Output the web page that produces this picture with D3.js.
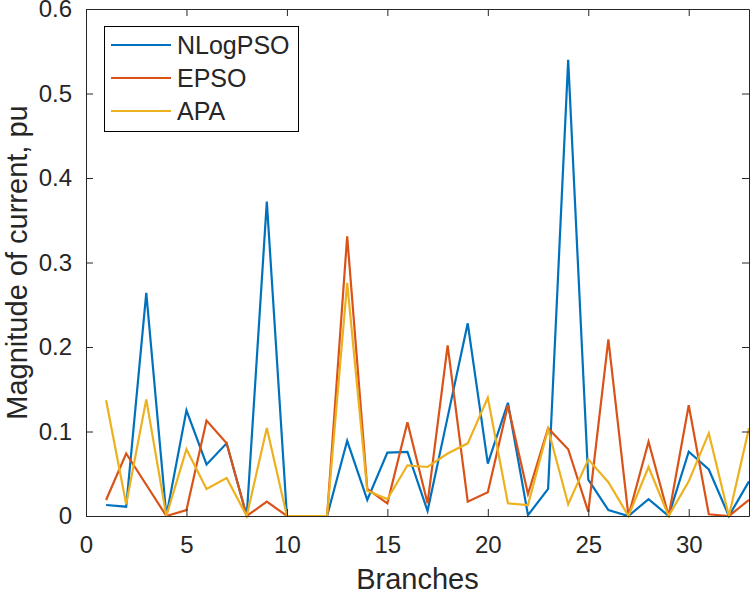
<!DOCTYPE html>
<html>
<head>
<meta charset="utf-8">
<script src="https://cdn.jsdelivr.net/npm/d3@7"></script>
<style>
  body { margin: 0; background: #fff; }
  text { font-family: "Liberation Sans", Arial, sans-serif; fill: #262626; }
</style>
</head>
<body>
<script>
// branches 1..33
var branches = d3.range(1, 34);

var nlogpso = [0.013, 0.011, 0.264, 0.000, 0.125, 0.061, 0.086, 0.000, 0.372, 0.000,
               0.000, 0.000, 0.089, 0.019, 0.075, 0.076, 0.006, 0.117, 0.228, 0.062,
               0.134, 0.001, 0.032, 0.540, 0.043, 0.007, 0.000, 0.020, 0.000, 0.076,
               0.055, 0.000, 0.041];
var epso    = [0.019, 0.074, 0.037, 0.000, 0.007, 0.113, 0.086, 0.000, 0.017, 0.000,
               0.000, 0.000, 0.331, 0.032, 0.015, 0.111, 0.015, 0.202, 0.017, 0.028,
               0.131, 0.026, 0.104, 0.079, 0.005, 0.209, 0.000, 0.088, 0.000, 0.131,
               0.002, 0.000, 0.019];
var apa     = [0.137, 0.014, 0.138, 0.000, 0.079, 0.032, 0.045, 0.000, 0.104, 0.000,
               0.000, 0.000, 0.276, 0.030, 0.020, 0.060, 0.058, 0.074, 0.086, 0.140,
               0.015, 0.013, 0.103, 0.014, 0.067, 0.040, 0.000, 0.058, 0.000, 0.041,
               0.098, 0.000, 0.104];

var seriesNames = ["NLogPSO", "EPSO", "APA"];
var seriesColors = ["#0072BD", "#D95319", "#EDB120"];
var xTicks = [0, 5, 10, 15, 20, 25, 30];
var yTicks = [0, 0.1, 0.2, 0.3, 0.4, 0.5, 0.6];

var W = 750, H = 596;
var pLeft = 86, pRight = 749, pTop = 9, pBottom = 516;

var svg = d3.select("body").append("svg")
  .attr("width", W).attr("height", H);

var x = d3.scaleLinear().domain([0, 33]).range([pLeft, pRight]);
var y = d3.scaleLinear().domain([0, 0.6]).range([pBottom, pTop]);

//============================================================
// data lines
var allSeries = [nlogpso, epso, apa];
var line = d3.line()
  .x(function (d, i) { return x(branches[i]); })
  .y(function (d) { return y(d); });

svg.append("g").selectAll("path")
  .data(allSeries)
  .enter()
  .append("path")
  .attr("d", line)
  .attr("fill", "none")
  .attr("stroke", function (d, i) { return seriesColors[i]; })
  .attr("stroke-width", 2.2)
  .attr("stroke-linejoin", "miter");

//============================================================
// axes (box with ticks inside on all sides)
var tl = 7;
var axisColor = "#262626";

var xb = svg.append("g").attr("transform", "translate(0," + pBottom + ")")
  .call(d3.axisBottom(x).tickValues(xTicks).tickSizeInner(-tl).tickSizeOuter(0).tickPadding(14)
    .tickFormat(d3.format("d")));
var xt = svg.append("g").attr("transform", "translate(0," + pTop + ")")
  .call(d3.axisTop(x).tickValues(xTicks).tickSizeInner(-tl).tickSizeOuter(0).tickFormat(""));
var yl = svg.append("g").attr("transform", "translate(" + pLeft + ",0)")
  .call(d3.axisLeft(y).tickValues(yTicks).tickSizeInner(-tl).tickSizeOuter(0).tickPadding(14)
    .tickFormat(function (d) { return d === 0 ? "0" : d3.format(".1f")(d); }));
var yr = svg.append("g").attr("transform", "translate(" + pRight + ",0)")
  .call(d3.axisRight(y).tickValues(yTicks).tickSizeInner(-tl).tickSizeOuter(0).tickFormat(""));

[xb, xt, yl, yr].forEach(function (g) {
  g.select(".domain").attr("stroke", axisColor).attr("stroke-width", 1);
  g.selectAll(".tick line").attr("stroke", axisColor).attr("stroke-width", 1);
  g.selectAll(".tick text").attr("fill", axisColor)
    .style("font-family", "'Liberation Sans', Arial, sans-serif").style("font-size", "24px");
});
xb.selectAll(".tick text").attr("dy", "0.96em");

// axis labels
svg.append("text")
  .attr("x", (pLeft + pRight) / 2).attr("y", 589)
  .attr("text-anchor", "middle")
  .style("font-size", "29px")
  .text("Branches");

svg.append("text")
  .attr("transform", "translate(27," + ((pTop + pBottom) / 2) + ") rotate(-90)")
  .attr("text-anchor", "middle")
  .style("font-size", "29px")
  .text("Magnitude of current, pu");

//============================================================
// legend
var lg = svg.append("g");
lg.append("rect")
  .attr("x", 104.5).attr("y", 26.5).attr("width", 194).attr("height", 105)
  .attr("fill", "#fff").attr("stroke", "#000").attr("stroke-width", 1);

var rows = lg.selectAll("g.row")
  .data(seriesNames)
  .enter()
  .append("g")
  .attr("transform", function (d, i) { return "translate(0," + (45 + i * 33) + ")"; });

rows.append("line")
  .attr("x1", 111).attr("x2", 171)
  .attr("y1", 0).attr("y2", 0)
  .attr("stroke", function (d, i) { return seriesColors[i]; })
  .attr("stroke-width", 2.2);

rows.append("text")
  .attr("x", 177).attr("y", 0).attr("dy", "0.36em")
  .style("font-size", "25px")
  .attr("fill", "#000")
  .text(function (d) { return d; });
</script>
</body>
</html>
